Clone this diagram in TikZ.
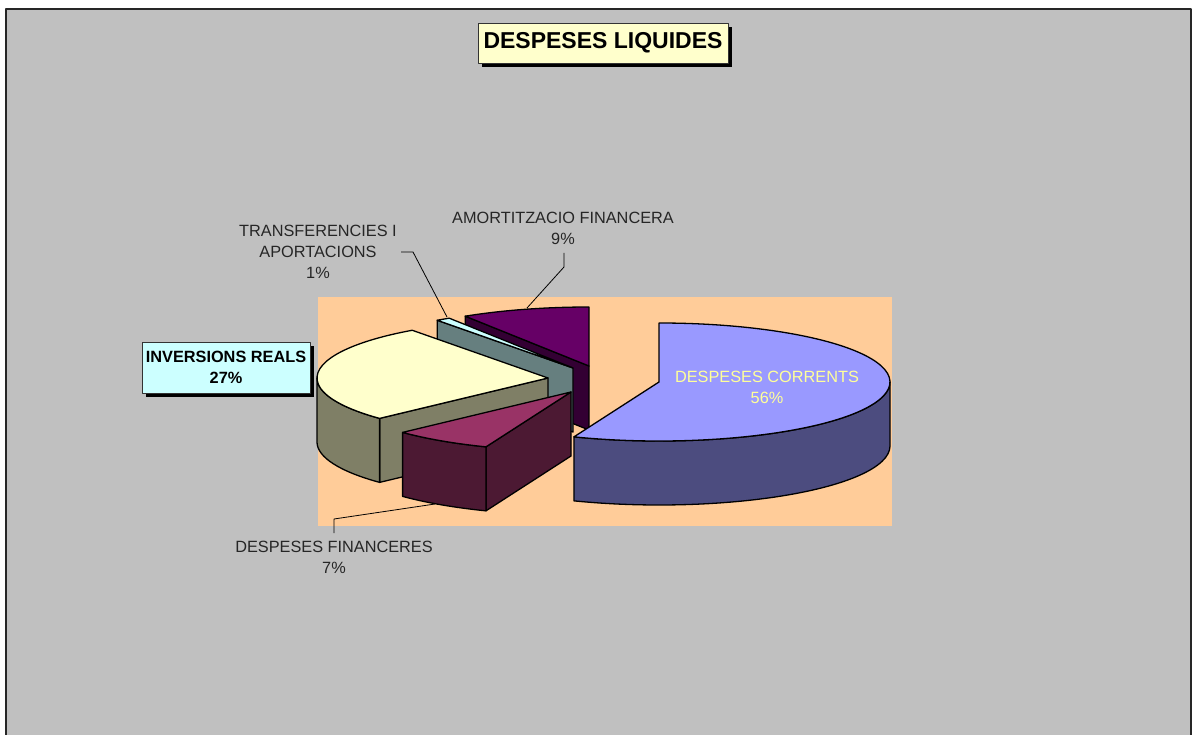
\documentclass[tikz,border=0pt]{standalone}
\usepackage{fontspec}
\setmainfont{Liberation Sans}
\usetikzlibrary{calc,shadows}
\definecolor{chartgray}{HTML}{C0C0C0}
\definecolor{plotpeach}{HTML}{FFCC99}
\definecolor{bluetop}{HTML}{9999FF}
\definecolor{blueside}{HTML}{4C4C7F}
\definecolor{maroontop}{HTML}{993366}
\definecolor{maroonside}{HTML}{4C1933}
\definecolor{yellowtop}{HTML}{FFFFCC}
\definecolor{yellowside}{HTML}{7F7F66}
\definecolor{tealtop}{HTML}{CCFFFF}
\definecolor{tealside}{HTML}{667F7F}
\definecolor{purpletop}{HTML}{660066}
\definecolor{purpleside}{HTML}{330033}
\definecolor{lbltext}{HTML}{FFFF99}
\newcommand\slicetop[4]{%
  \filldraw[slice, fill=#4] (#1) -- ++(#2:231 and 59) arc[start angle=#2, end angle=#3, x radius=231, y radius=59] -- cycle;}
\newcommand\sliceface[3]{%
  \filldraw[slice, fill=#3] (#1) -- ++(#2:231 and 59) -- ++(0,-64) -- ($(#1)+(0,-64)$) -- cycle;}
\newcommand\sliceside[4]{%
  \filldraw[slice, fill=#4] (#1) ++(#2:231 and 59) arc[start angle=#2, end angle=#3, x radius=231, y radius=59] -- ++(0,-64) arc[start angle=#3, end angle=#2, x radius=231, y radius=59] -- cycle;}
\begin{document}
\begin{tikzpicture}[x=1pt,y=1pt,line join=round,
  slice/.style={draw=black, line width=1.3pt},
  lbl/.style={font=\fontsize{16.3}{21}\selectfont, align=center, inner sep=0pt, text=black!85},
  leader/.style={draw=black, line width=0.8pt},
  boxed/.style={draw=black!80, line width=0.8pt, align=center, inner sep=0pt,
    drop shadow={shadow xshift=4pt, shadow yshift=-4pt, fill=black, opacity=1}}]
\useasboundingbox (0,0) rectangle (1195,-735);
\fill[white] (0,0) rectangle (1195,-735);
\draw[fill=chartgray, line width=1.5pt, draw=black!85] (6,-745) -- (6,-9) -- (1191,-9) -- (1191,-745);
\fill[plotpeach] (318,-297) rectangle (892,-526);

\coordinate (Pc) at (589,-366);
\coordinate (Tc) at (573,-368);
\coordinate (Yc) at (548,-378);
\coordinate (Mc) at (571,-392);
\coordinate (Bc) at (659,-382);

% purple (amortitzacio)
\sliceface{Pc}{122.4}{purpleside}
\slicetop{Pc}{90}{122.4}{purpletop}
% teal (transferencies)
\sliceface{Tc}{126}{tealside}
\slicetop{Tc}{122.4}{126}{tealtop}
% yellow (inversions)
\sliceface{Yc}{223.2}{yellowside}
\sliceside{Yc}{180}{223.2}{yellowside}
\slicetop{Yc}{126}{223.2}{yellowtop}
% maroon (despeses financeres)
\sliceface{Mc}{248.4}{maroonside}
\sliceside{Mc}{223.2}{248.4}{maroonside}
\slicetop{Mc}{223.2}{248.4}{maroontop}
% blue (despeses corrents)
\sliceside{Bc}{248.4}{360}{blueside}
\slicetop{Bc}{248.4}{450}{bluetop}

% title
\node[boxed, fill=yellowtop, minimum width=250, minimum height=40,
  font=\fontsize{23}{27}\selectfont\bfseries] (title) at (603,-43) {DESPESES LIQUIDES};

% labels
\node[lbl, text=lbltext] (lcor) at (767,-387) {DESPESES CORRENTS\\56\%};
\node[boxed, fill=tealtop, minimum width=168, minimum height=51,
  font=\fontsize{16.3}{21}\selectfont\bfseries] (linv) at (226,-367.5) {INVERSIONS REALS\\27\%};
\node[lbl] (ltra) at (318,-252) {TRANSFERENCIES I\\APORTACIONS\\1\%};
\node[lbl] (lamo) at (563,-228) {AMORTITZACIO FINANCERA\\9\%};
\node[lbl] (lfin) at (334,-557) {DESPESES FINANCERES\\7\%};

% leader lines
\coordinate (ta) at (401,-252);
\coordinate (tb) at (413,-252);
\coordinate (tc) at (447,-317);
\draw[leader] (ta) -- (tb) -- (tc);
\coordinate (aa) at (564,-253);
\coordinate (ab) at (564,-267);
\coordinate (ac) at (527,-308);
\draw[leader] (aa) -- (ab) -- (ac);
\coordinate (fa) at (334,-533);
\coordinate (fb) at (334,-519);
\coordinate (fc) at (435,-504);
\draw[leader] (fa) -- (fb) -- (fc);
\end{tikzpicture}
\end{document}
